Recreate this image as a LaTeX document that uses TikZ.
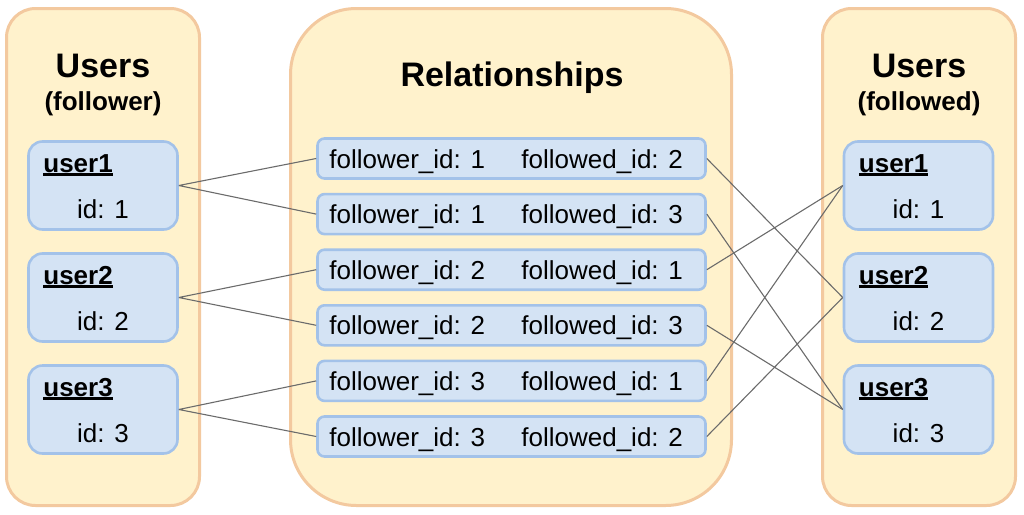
\documentclass[tikz,border=0pt]{standalone}
\usepackage{fontspec}
\setmainfont{Liberation Sans}
\usetikzlibrary{calc}
\definecolor{groupfill}{HTML}{FFF2CC}
\definecolor{groupline}{HTML}{F3C99F}
\definecolor{boxfill}{HTML}{D4E3F4}
\definecolor{boxline}{HTML}{A3C2E9}
\definecolor{linkline}{HTML}{6B6B6B}
\newcommand{\usrline}[1]{\setbox0=\hbox{#1}\rlap{\rule[-3.5pt]{\wd0}{2.4pt}}\box0}
\tikzset{
  group/.style={draw=groupline, fill=groupfill, line width=3pt, inner sep=0pt, minimum height=497pt},
  userbox/.style={draw=boxline, fill=boxfill, line width=2.6pt, inner sep=0pt, rounded corners=14pt, minimum width=149pt, minimum height=88pt},
  relbox/.style={draw=boxline, fill=boxfill, line width=2.6pt, inner sep=0pt, rounded corners=7pt, minimum width=388pt, minimum height=40pt},
  title/.style={anchor=base, inner sep=0pt, font=\fontsize{34}{40}\selectfont\bfseries},
  subtitle/.style={anchor=base, inner sep=0pt, font=\fontsize{26}{30}\selectfont\bfseries},
  uname/.style={anchor=base west, inner sep=0pt, font=\fontsize{26}{30}\selectfont\bfseries},
  txt/.style={inner sep=0pt, font=\fontsize{26}{30}\selectfont},
  link/.style={draw=linkline, line width=1.1pt}
}
\begin{document}
\begin{tikzpicture}[x=1pt, y=-1pt, line join=round]
\useasboundingbox (0,0) rectangle (1024,514);
% three groups
\node[group, rounded corners=29pt, minimum width=193pt] (follower) at (103,257) {};
\node[group, rounded corners=66pt, minimum width=441pt] (rels) at (511,257) {};
\node[group, rounded corners=29pt, minimum width=193pt] (followed) at (919,257) {};
\node[title] (tfollower) at (103,77) {Users};
\node[subtitle] (sfollower) at (103,110) {(follower)};
\node[title] (trels) at (512,86) {Relationships};
\node[title] (tfollowed) at (919,77) {Users};
\node[subtitle] (sfollowed) at (919,110) {(followed)};
% users, follower side
\node[userbox] (a1) at (103,185.5) {};
\node[userbox] (a2) at (103,297.5) {};
\node[userbox] (a3) at (103,409.5) {};
\node[uname] (na1) at ($(a1.north west)+(16,32)$) {\usrline{user1}};
\node[uname] (na2) at ($(a2.north west)+(16,32)$) {\usrline{user2}};
\node[uname] (na3) at ($(a3.north west)+(16,32)$) {\usrline{user3}};
\node[txt, anchor=base] (ia1) at ($(a1.north)+(0,78)$) {id: 1};
\node[txt, anchor=base] (ia2) at ($(a2.north)+(0,78)$) {id: 2};
\node[txt, anchor=base] (ia3) at ($(a3.north)+(0,78)$) {id: 3};
% users, followed side
\node[userbox] (b1) at (918.5,185.5) {};
\node[userbox] (b2) at (918.5,297.5) {};
\node[userbox] (b3) at (918.5,409.5) {};
\node[uname] (nb1) at ($(b1.north west)+(16,32)$) {\usrline{user1}};
\node[uname] (nb2) at ($(b2.north west)+(16,32)$) {\usrline{user2}};
\node[uname] (nb3) at ($(b3.north west)+(16,32)$) {\usrline{user3}};
\node[txt, anchor=base] (ib1) at ($(b1.north)+(0,78)$) {id: 1};
\node[txt, anchor=base] (ib2) at ($(b2.north)+(0,78)$) {id: 2};
\node[txt, anchor=base] (ib3) at ($(b3.north)+(0,78)$) {id: 3};
% relationships
\node[relbox] (r1) at (511.5,158.5) {};
\node[relbox] (r2) at (511.5,214.1) {};
\node[relbox] (r3) at (511.5,269.7) {};
\node[relbox] (r4) at (511.5,325.3) {};
\node[relbox] (r5) at (511.5,380.9) {};
\node[relbox] (r6) at (511.5,436.5) {};
\node[txt, anchor=base west] (fr1) at ($(r1.west)+(13,9.5)$) {follower\_id: 1};
\node[txt, anchor=base west] (fd1) at ($(r1.west)+(205,9.5)$) {followed\_id: 2};
\node[txt, anchor=base west] (fr2) at ($(r2.west)+(13,9.5)$) {follower\_id: 1};
\node[txt, anchor=base west] (fd2) at ($(r2.west)+(205,9.5)$) {followed\_id: 3};
\node[txt, anchor=base west] (fr3) at ($(r3.west)+(13,9.5)$) {follower\_id: 2};
\node[txt, anchor=base west] (fd3) at ($(r3.west)+(205,9.5)$) {followed\_id: 1};
\node[txt, anchor=base west] (fr4) at ($(r4.west)+(13,9.5)$) {follower\_id: 2};
\node[txt, anchor=base west] (fd4) at ($(r4.west)+(205,9.5)$) {followed\_id: 3};
\node[txt, anchor=base west] (fr5) at ($(r5.west)+(13,9.5)$) {follower\_id: 3};
\node[txt, anchor=base west] (fd5) at ($(r5.west)+(205,9.5)$) {followed\_id: 1};
\node[txt, anchor=base west] (fr6) at ($(r6.west)+(13,9.5)$) {follower\_id: 3};
\node[txt, anchor=base west] (fd6) at ($(r6.west)+(205,9.5)$) {followed\_id: 2};
% links
\draw[link] (a1.east) -- (r1.west) (a1.east) -- (r2.west);
\draw[link] (a2.east) -- (r3.west) (a2.east) -- (r4.west);
\draw[link] (a3.east) -- (r5.west) (a3.east) -- (r6.west);
\draw[link] (r1.east) -- (b2.west) (r2.east) -- (b3.west);
\draw[link] (r3.east) -- (b1.west) (r4.east) -- (b3.west);
\draw[link] (r5.east) -- (b1.west) (r6.east) -- (b2.west);
\end{tikzpicture}
\end{document}
